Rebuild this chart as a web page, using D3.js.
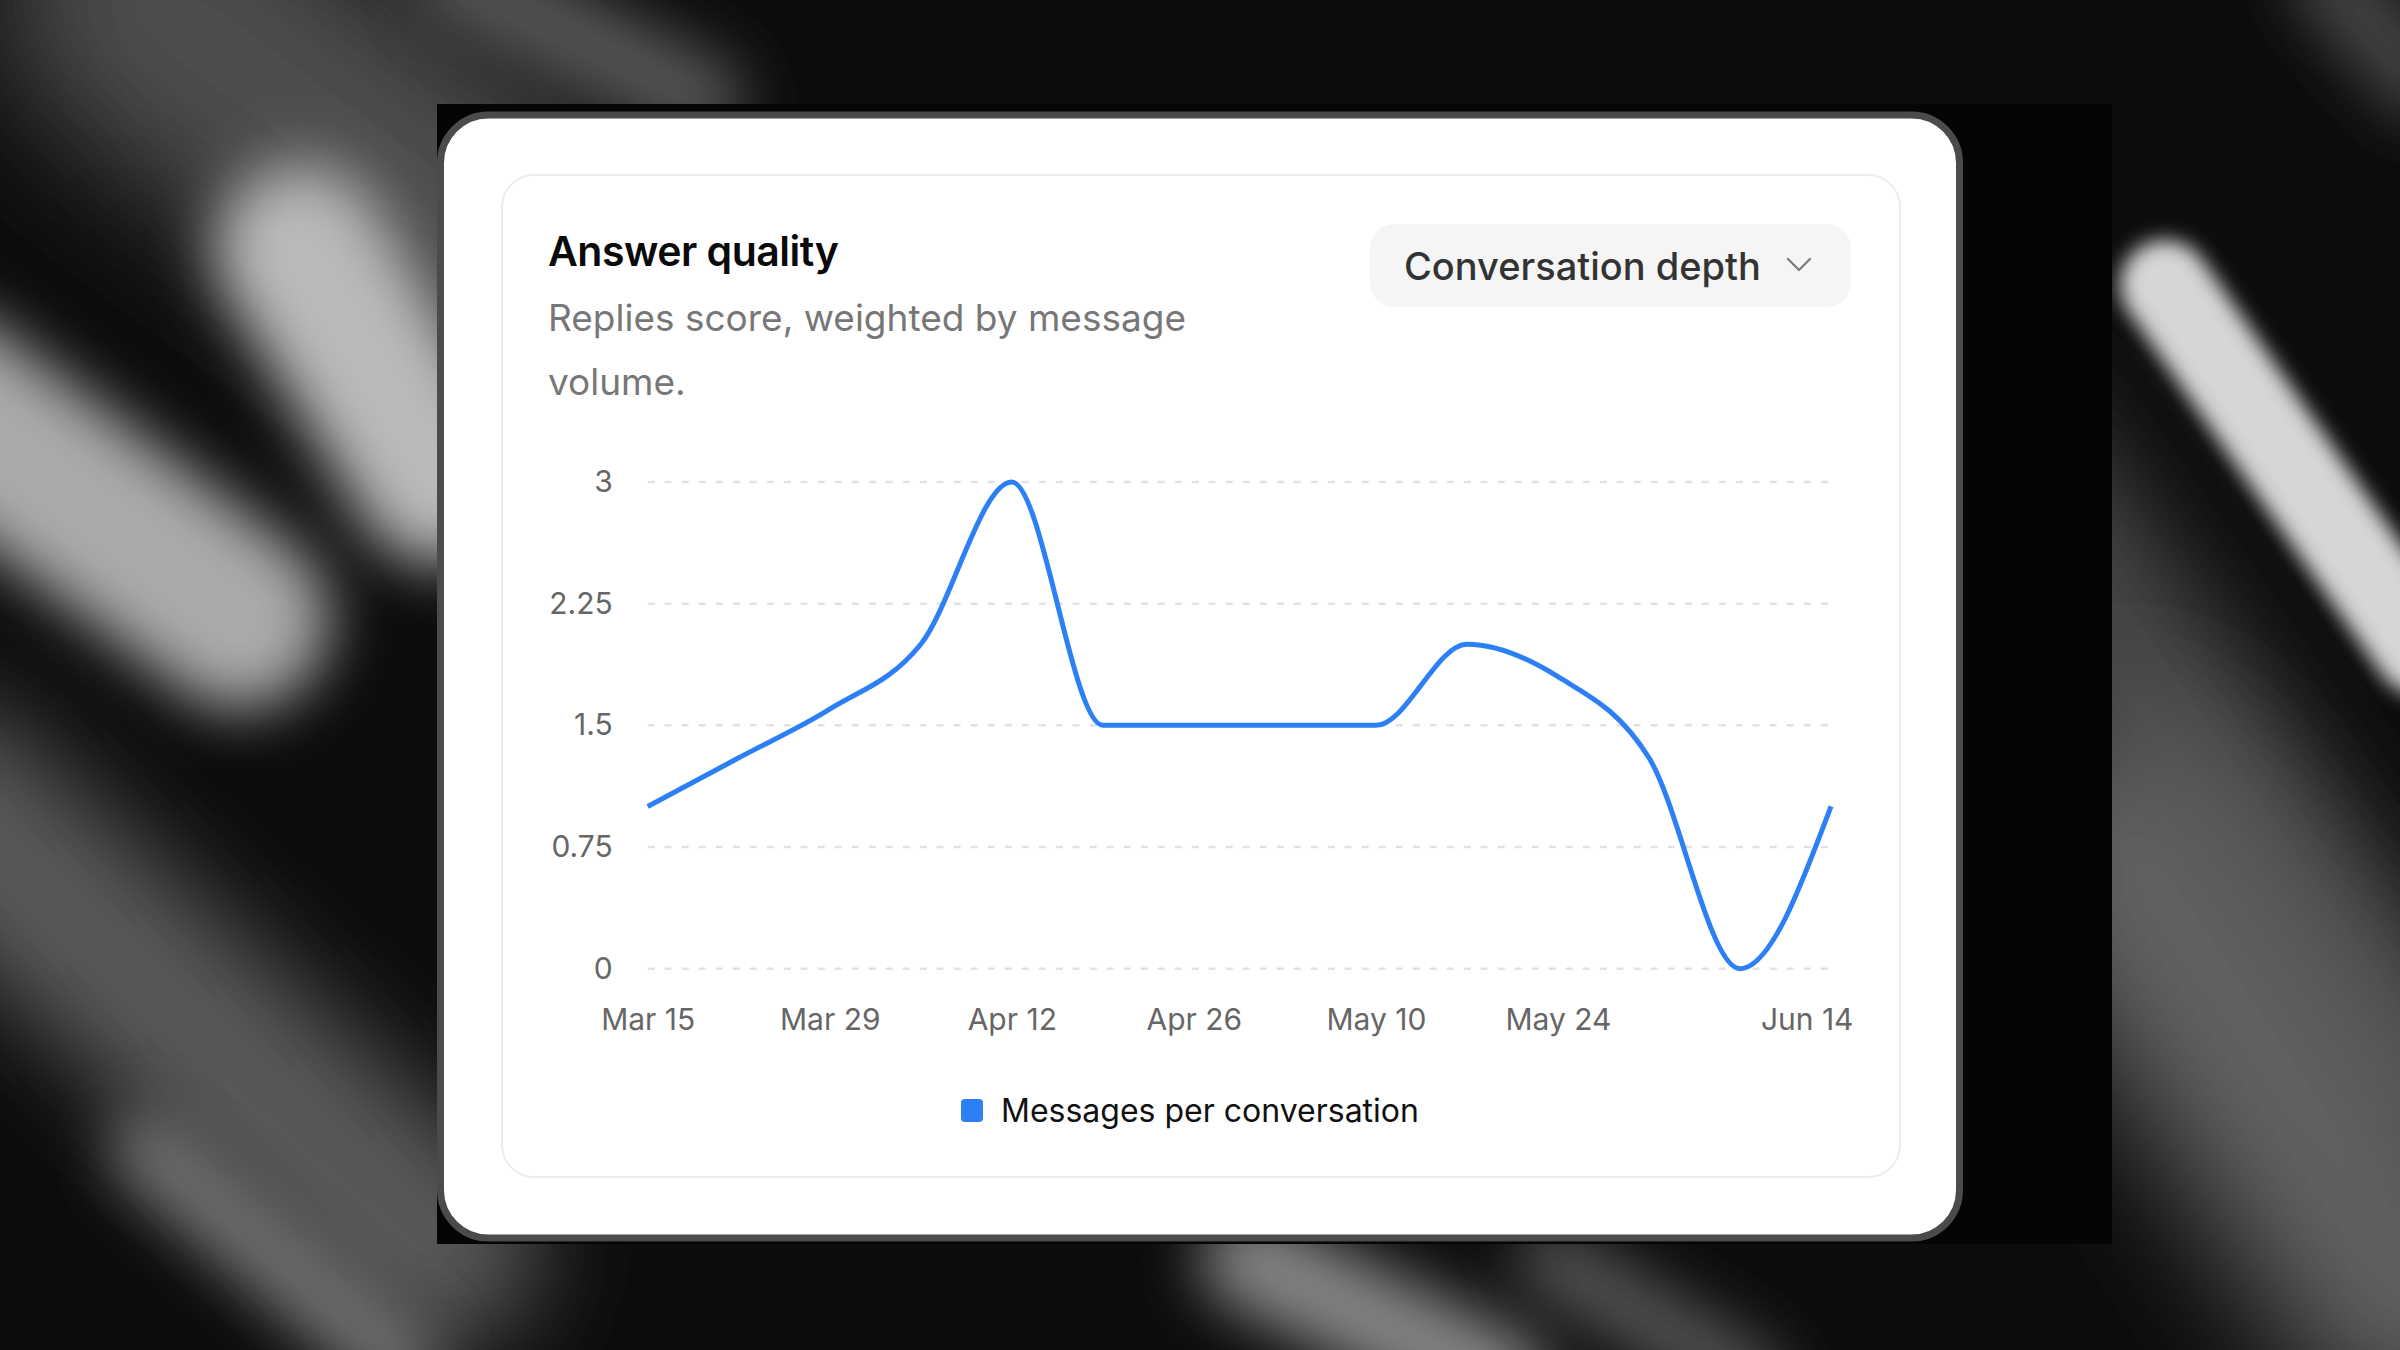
<!DOCTYPE html>
<html>
<head>
<meta charset="utf-8">
<script src="https://cdn.jsdelivr.net/npm/d3@7"></script>
<style>
  html, body { margin: 0; padding: 0; background: #0b0b0b; }
  svg { display: block; font-family: Inter, "Noto Sans", sans-serif; }
</style>
</head>
<body>
<svg id="chart" width="2400" height="1350"></svg>
<script>
// ---- data ----
const weekDates = ["2025-03-15", "2025-03-22", "2025-03-29", "2025-04-05", "2025-04-12", "2025-04-19", "2025-04-26",
                   "2025-05-03", "2025-05-10", "2025-05-17", "2025-05-24", "2025-05-31", "2025-06-07", "2025-06-14"];
const messagesPerConversation = [1.0, 1.3, 1.6, 2.0, 3.0, 1.5, 1.5, 1.5, 1.5, 2.0, 1.8, 1.3, 0, 1.0];
const xTickDates = ["2025-03-15", "2025-03-29", "2025-04-12", "2025-04-26", "2025-05-10", "2025-05-24", "2025-06-14"];
const yTicks = [0, 0.75, 1.5, 2.25, 3];
const seriesName = "Messages per conversation";

const parse = d3.timeParse("%Y-%m-%d");
const data = weekDates.map((d, i) => ({ date: parse(d), value: messagesPerConversation[i] }));

const svg = d3.select("#chart");

// ---- background ----
const defs = svg.append("defs");
[10, 30, 50, 65].forEach(b => {
  defs.append("filter").attr("id", "blur" + b)
    .attr("filterUnits", "userSpaceOnUse")
    .attr("x", -300).attr("y", -300).attr("width", 3000).attr("height", 1950)
    .append("feGaussianBlur").attr("stdDeviation", b);
});

svg.append("rect").attr("width", 2400).attr("height", 1350).attr("fill", "#0c0c0c");

// soft diagonal light bands (x1, y1, x2, y2, width, colour, blur)
const bands = [
  [150, 0, 450, 220, 300, "#4e4e4e", 65],
  [300, 250, 440, 480, 170, "#bababa", 30],
  [-60, 400, 240, 620, 180, "#aaaaaa", 30],
  [-60, 800, 440, 1250, 200, "#5a5a5a", 50],
  [150, 1150, 400, 1360, 80, "#707070", 30],
  [2165, 285, 2420, 650, 90, "#d6d6d6", 10],
  [1990, 450, 2420, 1080, 180, "#474747", 50],
  [2120, 850, 2420, 1300, 260, "#626262", 65],
  [2330, -20, 2420, 80, 80, "#444444", 30],
  [1250, 1260, 1500, 1380, 100, "#858585", 30],
  [1550, 1260, 1750, 1380, 70, "#555555", 30],
  [460, -20, 700, 100, 90, "#555555", 30]
];
svg.append("g").selectAll("line").data(bands).join("line")
  .attr("x1", d => d[0]).attr("y1", d => d[1])
  .attr("x2", d => d[2]).attr("y2", d => d[3])
  .attr("stroke-width", d => d[4])
  .attr("stroke", d => d[5])
  .attr("stroke-linecap", "round")
  .attr("filter", d => "url(#blur" + d[6] + ")");

// black plate behind the card
svg.append("rect").attr("x", 437).attr("y", 104).attr("width", 1675).attr("height", 1140).attr("fill", "#050505");

// ---- cards ----
svg.append("rect")
  .attr("x", 440.5).attr("y", 115).attr("width", 1519).attr("height", 1123)
  .attr("rx", 48).attr("fill", "#ffffff").attr("stroke", "#4b4b4b").attr("stroke-width", 7);

svg.append("rect")
  .attr("x", 502).attr("y", 175).attr("width", 1398).attr("height", 1002)
  .attr("rx", 32).attr("fill", "#ffffff").attr("stroke", "#ececec").attr("stroke-width", 2);

// ---- header ----
svg.append("text")
  .attr("x", 548).attr("y", 266)
  .style("font-size", "41px").style("font-weight", 600).style("letter-spacing", "-0.5px")
  .attr("fill", "#0a0a0a")
  .text("Answer quality");

const sub = svg.append("text")
  .attr("x", 548).attr("y", 331)
  .style("font-size", "37px").attr("fill", "#777777");
sub.append("tspan").attr("x", 548).text("Replies score, weighted by message");
sub.append("tspan").attr("x", 548).attr("dy", 64).text("volume.");

// dropdown
svg.append("rect")
  .attr("x", 1370).attr("y", 224).attr("width", 481).attr("height", 83)
  .attr("rx", 24).attr("fill", "#f5f5f5");
svg.append("text")
  .attr("x", 1404).attr("y", 280)
  .style("font-size", "38px").style("font-weight", 500)
  .attr("fill", "#333333")
  .text("Conversation depth");
svg.append("path")
  .attr("d", "M1788,259 L1799,270 L1810,259")
  .attr("fill", "none").attr("stroke", "#7a7a7a").attr("stroke-width", 2.2)
  .attr("stroke-linecap", "round").attr("stroke-linejoin", "round");

// ---- chart ----
const plotLeft = 647.7, plotRight = 1831, plotTop = 482, plotBottom = 968.7;

const x = d3.scaleTime()
  .domain(d3.extent(data, d => d.date))
  .range([plotLeft, plotRight]);

const y = d3.scaleLinear()
  .domain([0, 3])
  .range([plotBottom, plotTop]);

// gridlines
svg.append("g").selectAll("line").data(yTicks).join("line")
  .attr("x1", plotLeft).attr("x2", plotRight)
  .attr("y1", d => y(d)).attr("y2", d => y(d))
  .attr("stroke", "#e2e2e2").attr("stroke-width", 2.5)
  .attr("stroke-dasharray", "7 10");

// y axis
const yAxis = svg.append("g")
  .attr("transform", `translate(${plotLeft},0)`)
  .call(d3.axisLeft(y).tickValues(yTicks).tickSize(0).tickPadding(35).tickFormat(d => String(d)));
yAxis.select(".domain").remove();
yAxis.selectAll("text")
  .style("font-size", "30px").style("font-family", "Inter, sans-serif")
  .attr("fill", "#666666");

// x axis
const fmt = d3.timeFormat("%b %-d");
const xAxis = svg.append("g")
  .attr("transform", `translate(0,${plotBottom})`)
  .call(d3.axisBottom(x).tickValues(xTickDates.map(parse)).tickSize(0).tickPadding(40).tickFormat(fmt));
xAxis.select(".domain").remove();
xAxis.selectAll("text")
  .style("font-size", "30px").style("font-family", "Inter, sans-serif")
  .attr("fill", "#666666");
// keep the last label inside the card
xAxis.selectAll(".tick:last-of-type text")
  .attr("text-anchor", "end").attr("dx", 22);

// line
const line = d3.line()
  .x(d => x(d.date))
  .y(d => y(d.value))
  .curve(d3.curveMonotoneX);

svg.append("path")
  .datum(data)
  .attr("d", line)
  .attr("fill", "none")
  .attr("stroke", "#2d7ff6")
  .attr("stroke-width", 5)
  .attr("stroke-linejoin", "round");

// ---- legend ----
const legend = svg.append("g").attr("transform", "translate(961,1099)");
legend.append("rect")
  .attr("width", 22).attr("height", 23).attr("rx", 4)
  .attr("fill", "#2d7ff6");
legend.append("text")
  .attr("x", 40).attr("y", 23)
  .style("font-size", "32px")
  .attr("fill", "#111111")
  .text(seriesName);
</script>
</body>
</html>
